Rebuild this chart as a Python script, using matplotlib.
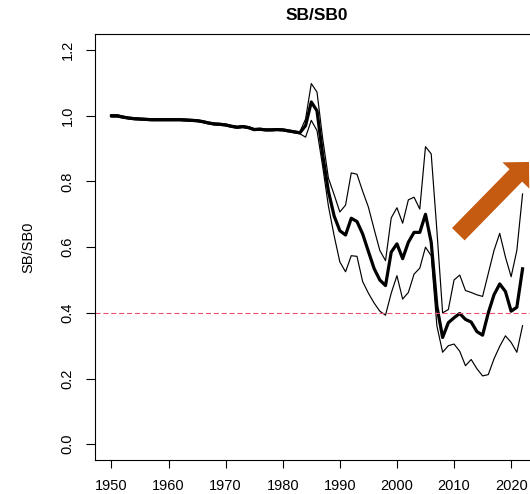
import numpy as np
import matplotlib
matplotlib.use('Agg')
import matplotlib.pyplot as plt
from matplotlib.patches import FancyArrow

plt.rcParams['font.family'] = ['Liberation Sans', 'DejaVu Sans']

# Spawning biomass relative to unfished, 1950-2022
years = np.arange(1950, 2023)

sb_median = [
    1.000, 1.000, 0.996, 0.993, 0.991, 0.990, 0.989, 0.988, 0.988, 0.988,
    0.988, 0.988, 0.988, 0.987, 0.986, 0.985, 0.982, 0.978, 0.975, 0.974,
    0.972, 0.968, 0.965, 0.967, 0.964, 0.958, 0.959, 0.957, 0.957, 0.958,
    0.957, 0.954, 0.951, 0.948, 0.970, 1.042, 1.015, 0.880, 0.770, 0.695,
    0.650, 0.637, 0.688, 0.678, 0.640, 0.587, 0.535, 0.500, 0.483, 0.585,
    0.610, 0.565, 0.615, 0.645, 0.645, 0.700, 0.615, 0.420, 0.325, 0.370,
    0.385, 0.398, 0.380, 0.372, 0.343, 0.332, 0.400, 0.455, 0.488, 0.465,
    0.405, 0.417, 0.534,
]

sb_upper = [
    1.003, 1.003, 0.999, 0.996, 0.994, 0.993, 0.992, 0.991, 0.991, 0.991,
    0.991, 0.991, 0.991, 0.990, 0.989, 0.988, 0.985, 0.981, 0.978, 0.977,
    0.975, 0.971, 0.968, 0.970, 0.967, 0.961, 0.962, 0.960, 0.960, 0.961,
    0.960, 0.957, 0.954, 0.951, 0.990, 1.098, 1.072, 0.930, 0.810, 0.760,
    0.707, 0.728, 0.826, 0.822, 0.770, 0.722, 0.655, 0.590, 0.559, 0.689,
    0.720, 0.673, 0.744, 0.752, 0.716, 0.906, 0.884, 0.650, 0.400, 0.410,
    0.500, 0.515, 0.468, 0.462, 0.455, 0.450, 0.520, 0.590, 0.642, 0.570,
    0.510, 0.590, 0.762,
]

sb_lower = [
    0.996, 0.996, 0.993, 0.990, 0.988, 0.987, 0.986, 0.985, 0.985, 0.985,
    0.985, 0.985, 0.985, 0.984, 0.983, 0.982, 0.979, 0.975, 0.972, 0.971,
    0.969, 0.965, 0.962, 0.964, 0.961, 0.955, 0.956, 0.954, 0.954, 0.955,
    0.954, 0.951, 0.948, 0.945, 0.935, 0.986, 0.955, 0.845, 0.725, 0.635,
    0.555, 0.525, 0.574, 0.572, 0.495, 0.460, 0.430, 0.405, 0.393, 0.460,
    0.513, 0.442, 0.462, 0.518, 0.536, 0.600, 0.574, 0.360, 0.280, 0.300,
    0.305, 0.283, 0.239, 0.258, 0.230, 0.208, 0.212, 0.260, 0.298, 0.330,
    0.310, 0.280, 0.361,
]

ref_level = 0.4
x_ticks = [1950, 1960, 1970, 1980, 1990, 2000, 2010, 2020]
y_ticks = [0.0, 0.2, 0.4, 0.6, 0.8, 1.0, 1.2]

W, H = 530, 494
fig = plt.figure(figsize=(W / 100, H / 100), dpi=100)

# R-style plot region; x range padded 4% so the right edge runs past the frame
left, right, top, bottom = 95, 539, 34.3, 460
ax = fig.add_axes([left / W, 1 - bottom / H, (right - left) / W, (bottom - top) / H])

ax.plot(years, sb_upper, color='black', lw=0.85)
ax.plot(years, sb_lower, color='black', lw=0.85)
ax.plot(years, sb_median, color='black', lw=2.3)
ax.axhline(ref_level, color='#E8506E', lw=0.8, dashes=(4.5, 2.6))

span = years[-1] - years[0]
ax.set_xlim(years[0] - 0.04 * span, years[-1] + 0.04 * span)
ax.set_ylim(-0.048, 1.248)

ax.set_xticks(x_ticks)
ax.set_yticks(y_ticks)
ax.set_yticklabels([f'{v:.1f}' for v in y_ticks], rotation=90, va='center')
ax.tick_params(axis='x', length=6, width=0.8, pad=8, labelsize=10.5)
ax.tick_params(axis='y', length=6.5, width=0.8, pad=8, labelsize=10.5)
for s in ax.spines.values():
    s.set_linewidth(0.8)

ax.set_ylabel('SB/SB0', fontsize=10.5)
ax.yaxis.set_label_coords((35 - left) / (right - left), 0.5)
ax.text(0.5, (bottom - 15) / (bottom - top), 'SB/SB0', transform=ax.transAxes,
        ha='center', va='center', fontsize=12.5, fontweight='bold')

# Overlay in pixel units for the trend arrow
ov = fig.add_axes([0, 0, 1, 1], zorder=5)
ov.set_xlim(0, W)
ov.set_ylim(H, 0)
ov.axis('off')
ov.patch.set_alpha(0)
tail = (458.3, 234.2)
tip = (529.0, 162.0)
ov.add_patch(FancyArrow(tail[0], tail[1], tip[0] - tail[0], tip[1] - tail[1],
                        width=17.7, head_width=37.5, head_length=18.8,
                        length_includes_head=True, color='#C55A11', lw=0))

fig.savefig('out.png', dpi=100)
